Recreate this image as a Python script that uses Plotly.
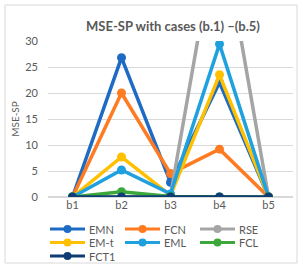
import plotly.graph_objects as go

categories = ["b1", "b2", "b3", "b4", "b5"]
EMN = [0, 26.8, 2.8, 22.0, 0]
FCN = [0, 20.0, 4.5, 9.2, 0]
RSE = [0, 0, 0.3, 54.0, 0]
EMt = [0, 7.7, 0.3, 23.5, 0]
EML = [0, 5.2, 0.6, 29.4, 0]
FCL = [0, 1.0, 0.1, 0, 0]
FCT1 = [0, 0, 0, 0, 0]

series = [
    ("EMN", EMN, "#1E6BC4"),
    ("FCN", FCN, "#FF7B22"),
    ("RSE", RSE, "#A5A5A5"),
    ("EM-t", EMt, "#FFC000"),
    ("EML", EML, "#1FA0DF"),
    ("FCL", FCL, "#3CA83A"),
    ("FCT1", FCT1, "#0E3D74"),
]

fig = go.Figure()
for name, vals, col in series:
    fig.add_trace(go.Scatter(
        x=categories, y=vals, name=name, mode="lines+markers",
        line=dict(color=col, width=3.5),
        marker=dict(color=col, size=9),
        showlegend=False,
    ))

W, H = 302, 268
ml, mr, mt, mb = 48, 9, 41, 71
pw, ph = W - ml - mr, H - mt - mb

def px(x):
    return (x - ml) / pw

def py(y):
    return (H - mb - y) / ph

fig.update_layout(
    width=W, height=H,
    margin=dict(l=ml, r=mr, t=mt, b=mb, autoexpand=False),
    paper_bgcolor="white", plot_bgcolor="white",
    font=dict(family="Lato", color="#595959", size=11),
    title=dict(text="<b>MSE-SP with cases (b.1) –(b.5)</b>", xref="container", x=173 / W,
               xanchor="center", y=1 - 26 / H, yanchor="middle",
               font=dict(size=13, color="#595959")),
    xaxis=dict(range=[-0.5, 4.5], showgrid=False, showline=False, zeroline=False,
               ticks="", tickfont=dict(size=11, color="#595959")),
    yaxis=dict(range=[0, 30], dtick=5, showgrid=True, gridcolor="#D9D9D9", gridwidth=1,
               zeroline=True, zerolinecolor="#D9D9D9", showline=False, ticks="",
               ticklabelstandoff=9,
               tickfont=dict(size=11, color="#595959"),
               title=dict(text="MSE-SP", font=dict(size=10, color="#595959"), standoff=3)),
    showlegend=False,
)
fig.add_shape(type="rect", xref="paper", yref="paper",
              x0=px(5), x1=px(297), y0=py(263), y1=py(5),
              line=dict(color="#D9D9D9", width=1), fillcolor="rgba(0,0,0,0)", layer="below")

# legend (3 columns)
col_x = [50, 125, 200]
row_y = [229, 242.5, 256]
for i, (name, vals, col) in enumerate(series):
    cx = col_x[i % 3]
    cy = row_y[i // 3]
    fig.add_shape(type="line", xref="paper", yref="paper",
                  x0=px(cx), x1=px(cx + 35), y0=py(cy), y1=py(cy),
                  line=dict(color=col, width=3))
    r = 4
    fig.add_shape(type="circle", xref="paper", yref="paper",
                  x0=px(cx + 17.5 - r), x1=px(cx + 17.5 + r),
                  y0=py(cy + r), y1=py(cy - r),
                  line=dict(color=col, width=0), fillcolor=col)
    fig.add_annotation(xref="paper", yref="paper", x=px(cx + 37), y=py(cy),
                       xanchor="left", yanchor="middle", text=name, showarrow=False,
                       font=dict(size=11, color="#595959"))

fig.write_html("out.html", config={"displayModeBar": False},
               post_script="document.body.style.margin='0';document.body.style.overflow='hidden';")
